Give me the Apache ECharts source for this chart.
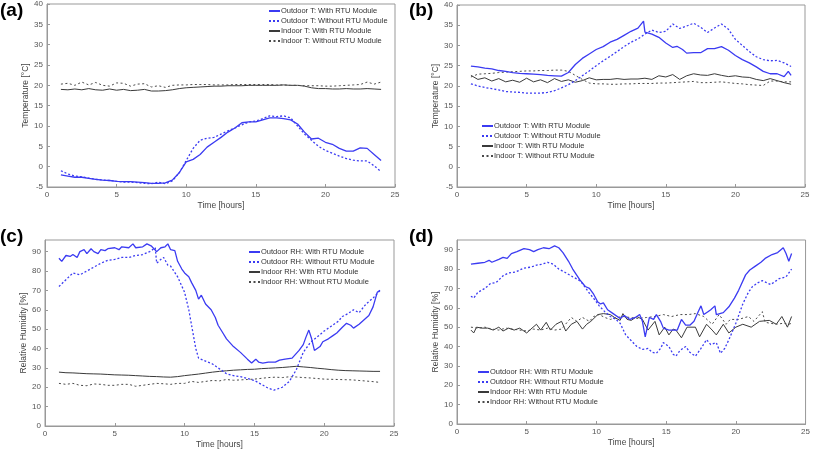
<!DOCTYPE html>
<html>
<head>
<meta charset="utf-8">
<script src="https://cdn.jsdelivr.net/npm/echarts@6/dist/echarts.min.js"></script>
<style>html,body{margin:0;padding:0;background:#fff}#c{width:813px;height:450px}</style>
</head>
<body>
<div id="c"></div>
<script>
// ---------- DATA ----------
const HOURS = [1,1.5,2,2.5,3,3.5,4,4.5,5,5.5,6,6.5,7,7.5,8,8.5,9,9.5,10,10.5,11,11.5,12,12.5,13,13.5,14,14.5,15,15.5,16,16.5,17,17.5,18,18.5,19,19.5,20,20.5,21,21.5,22,22.5,23,23.5,24];
const X_TICKS = [0,5,10,15,20,25];
const NAMES_T = ['Outdoor T: With RTU Module','Outdoor T: Without RTU Module','Indoor T: With RTU Module','Indoor T: Without RTU Module'];
const NAMES_RH = ['Outdoor RH: With RTU Module','Outdoor RH: Without RTU Module','Indoor RH: With RTU Module','Indoor RH: Without RTU Module'];
const PANEL_LABELS = ['(a)','(b)','(c)','(d)'];

// (a) temperature, winter day
const a_outWith = [-2,-2.3,-2.6,-2.6,-2.9,-3.1,-3.3,-3.4,-3.6,-3.7,-3.7,-3.8,-3.9,-4.1,-4.1,-4.0,-3.3,-1.5,1.2,1.8,3,4.8,6,7.2,8.5,9.5,10.8,11,11,11.5,12,12,11.8,11.5,10.5,8.5,6.8,7,6,5.5,4.5,3.8,3.8,4.6,4.5,3,1.5];
const a_outWithout = [-1,-1.8,-2.3,-2.5,-2.8,-3.1,-3.3,-3.4,-3.6,-3.8,-3.8,-3.9,-4.1,-4.2,-3.8,-4.2,-3.5,-1.5,1.5,4.5,6.5,7,7.2,8,8.8,9.5,10.3,11,11.2,11.8,12.5,12.3,12.5,12,10,8,6.5,5,4,3.3,2.6,2,1.6,1.4,1.4,0.2,-1.2];
const a_inWith = [19,18.9,19.1,18.9,19.2,18.9,18.8,19.1,18.8,19,18.7,18.8,19,18.6,18.6,18.7,18.9,19.2,19.4,19.5,19.6,19.7,19.8,19.8,19.9,19.9,19.9,20,20,20,20,20,20.1,20,20,19.8,19.4,19.2,19.2,19.1,19.1,19.2,19.1,19.1,19.2,19.1,19.0];
const a_inWithout = [20.3,20.5,20.0,20.8,20.1,20.7,20.0,19.8,20.6,20.5,19.8,20.3,20.4,19.6,19.9,19.5,20.0,20.1,20.1,20.2,20.2,20.2,20.1,20.1,20.1,20.2,20.2,20.2,20.2,20.2,20.2,20.1,20.1,20.0,20.0,19.9,19.9,19.9,19.8,19.8,19.9,20.0,20.1,20.2,20.8,20.3,20.8];

// (b) temperature, summer day
const b_outWith = [[1,24.9],[1.5,24.7],[2,24.4],[2.5,24.2],[3,23.8],[3.5,23.6],[4,23.3],[4.5,23.1],[5,23.0],[5.5,22.9],[6,22.8],[6.5,22.6],[7,22.5],[7.5,22.4],[8,23.3],[8.5,25.3],[9,26.8],[9.5,27.9],[10,29],[10.5,29.7],[11,30.8],[11.5,31.5],[12,32.5],[12.5,33.5],[13,34.3],[13.4,36],[13.5,33.3],[14,32.8],[14.5,32],[15,30.6],[15.5,29.5],[15.8,29.8],[16.2,29],[16.5,28.1],[17,28.2],[17.5,28.2],[18,29.2],[18.5,29.2],[19,29.7],[19.5,28.8],[20,27.5],[20.5,26.5],[21,25.7],[21.5,24.7],[22,23.6],[22.5,23],[23,23],[23.5,22.3],[23.8,23.6],[24,22.6]];
const b_outWithout = [20.5,20,19.6,19.3,19,18.6,18.5,18.4,18.2,18.2,18.2,18.4,18.8,19.5,20.3,21.3,22.5,23.7,25,26.2,27.3,28.5,29.7,30.8,31.6,32.8,33.8,33.2,33.5,35.3,34.2,34.8,35.5,34.5,33.2,34.3,35.3,34,31.5,30,28.5,27.2,26.5,26.2,26.3,25.7,24.8];
const b_inWith = [22.6,21.6,22.0,21.2,21.8,21.0,21.4,20.9,21.9,21.0,21.5,20.8,21.8,21.1,21.5,20.9,21.3,22.0,21.5,21.6,21.6,21.8,21.6,21.7,21.7,21.9,21.6,22.5,22.2,22.8,21.6,22.5,23.0,22.7,22.6,23.0,22.6,22.3,22.5,22.2,22.1,21.6,21.3,21.8,21.3,20.8,20.4];
const b_inWithout = [22.2,22.9,23.0,23.1,23.3,23.4,23.5,23.6,23.7,23.7,23.8,23.8,23.9,23.9,23.6,22.6,21.6,20.7,20.5,20.5,20.4,20.4,20.5,20.5,20.6,20.6,20.6,20.7,20.7,20.8,20.9,21.0,21.1,20.8,20.8,20.9,21.0,20.8,20.6,20.5,20.3,20.2,20.1,21.2,21.2,21.0,21.0];

// (c) relative humidity, winter day
const c_outWith = [[1,86.6],[1.2,85],[1.5,88],[1.8,87.5],[2,88.5],[2.3,87],[2.5,90],[2.8,91],[3,89],[3.3,91.5],[3.5,90],[3.8,89],[4,91],[4.3,90.5],[4.5,91.5],[5,92],[5.3,91],[5.5,92.5],[6,92],[6.3,94],[6.5,92],[7,92.5],[7.3,94],[7.6,93],[8,90],[8.3,92],[8.6,92.5],[8.8,94],[9,91],[9.3,90.5],[9.5,85],[9.8,81],[10,79],[10.3,77],[10.5,74],[10.8,70],[11,65.5],[11.2,67.5],[11.5,63],[11.9,60],[12.2,56],[12.4,52],[12.7,48.5],[13,45],[13.5,41],[14,38],[14.5,34.5],[14.8,32.5],[15.1,34.5],[15.3,33],[15.6,32.5],[16,33],[16.5,33],[16.8,34],[17.2,34.5],[17.7,35],[18.2,39],[18.5,42],[18.7,46],[18.9,49.5],[19.1,45],[19.3,39],[19.4,38],[19.7,41],[19.9,43.5],[20.3,45],[20.6,46.5],[20.9,48],[21.3,51],[21.6,53],[21.9,52],[22.1,50.5],[22.5,52.5],[22.8,54.5],[23.2,57],[23.5,61.5],[23.8,69],[24,70]];
const c_outWithout = [[1,72],[1.5,75.5],[2,79],[2.5,78],[3,80],[3.5,82],[4,84],[4.5,85.5],[5,86],[5.5,87],[6,87],[6.5,88],[7,88.5],[7.5,90],[7.9,92],[8,84],[8.3,86],[8.5,87],[8.8,83],[9,82.5],[9.5,77],[10,69],[10.3,60],[10.5,52],[10.8,40],[11,35],[11.5,33.5],[12,32],[12.5,29.5],[13,27],[13.5,26],[14,25.5],[14.5,24.5],[15,23.5],[15.5,21.5],[16,19.5],[16.4,18.5],[17,20],[17.5,23],[18,29],[18.5,38],[19,43],[19.5,46],[20,49],[20.5,51.5],[21,54],[21.3,56.5],[21.7,58],[22.1,60],[22.5,58.5],[23,63],[23.5,66],[24,70]];
const c_inWith = [27.8,27.5,27.4,27.2,27,26.9,26.8,26.6,26.4,26.3,26.2,26,25.8,25.6,25.5,25.3,25.2,25.5,26,26.4,26.8,27.3,27.8,28.2,28.5,28.8,29,29.2,29.3,29.6,29.8,30,30.2,30.5,30.8,30.5,30.2,29.8,29.5,29.1,28.8,28.6,28.5,28.4,28.3,28.2,28.2];
const c_inWithout = [22,21.5,22,21,20.8,21.7,21.5,21,21,21.5,21.5,20.5,21,21.5,22,21.8,21.5,22,22,23,22.5,23,23.5,23.3,24,23.6,23.8,24,24.2,24.6,25,25.2,25,25.4,25.3,25,24.8,24.5,24.2,24.1,24,23.9,23.8,23.5,23.2,22.9,22.5];

// (d) relative humidity, summer day
const d_outWith = [[1,82.5],[1.5,83],[2,83.5],[2.3,84.5],[2.5,83.5],[3,85],[3.3,86],[3.6,85.5],[3.9,88],[4.3,89],[4.8,90.5],[5.2,90],[5.5,89],[5.8,90],[6.2,91],[6.6,90.5],[7,92],[7.3,91],[7.6,88.5],[8,84],[8.3,80],[8.8,74.5],[9.2,71],[9.5,70],[9.8,67],[10.1,63],[10.3,62],[10.5,62.5],[10.8,59],[11.2,57],[11.7,54.5],[12,56],[12.4,54],[12.8,55],[13.1,56.5],[13.3,53],[13.5,45],[13.8,55],[14.1,54],[14.3,56.5],[14.6,53],[14.8,49.5],[15.2,48.5],[15.8,48.5],[16.1,54],[16.4,51],[16.7,51],[17,53],[17.3,58],[17.5,61],[17.7,56.5],[18,58],[18.2,59],[18.5,61],[18.6,56.5],[19.1,57.5],[19.5,60.5],[19.9,65],[20.2,69],[20.7,77],[21,79.5],[21.4,81.5],[21.8,83.5],[22.1,85.5],[22.6,87.5],[23,88.5],[23.4,91],[23.6,88],[23.8,84],[24,88]];
const d_outWithout = [[1,66],[1.2,65],[1.5,68],[2,70],[2.4,72.5],[2.8,73],[3.3,76.5],[3.7,78],[4.2,78.5],[4.8,80.5],[5.3,81],[5.7,82],[6.1,82.5],[6.5,83.5],[6.9,82.5],[7.3,80],[7.7,78.5],[8.3,76],[8.7,74.5],[9,72.5],[9.5,67.5],[9.9,64],[10.2,61],[10.6,58],[11,55.5],[11.4,54],[11.7,52],[12.1,46],[12.5,43],[12.9,40],[13.3,38.5],[13.7,39],[14,37],[14.3,36.5],[14.6,39],[14.8,42],[15.2,40],[15.5,36],[15.7,35],[16,38],[16.4,40],[16.7,37],[17.1,35],[17.5,39],[17.9,43.5],[18.2,41],[18.6,42],[18.9,36.5],[19.2,39],[19.5,43.5],[20,52],[20.5,62],[20.9,68],[21.2,71],[21.6,73],[21.9,74],[22.2,73],[22.5,72],[23.1,75],[23.6,76],[24,80]];
const d_inWith = [[1,48.5],[1.2,47],[1.4,50],[1.8,49.5],[2.2,49.5],[2.6,48.5],[3,50],[3.3,48],[3.7,49.5],[4.1,48.5],[4.5,49.5],[4.8,48],[5,47],[5.3,49],[5.7,51.5],[6,48.5],[6.4,52.5],[6.7,48.5],[7.1,51.5],[7.5,53],[7.8,48],[8.2,51.5],[8.6,53],[9,49],[9.3,51.5],[9.6,53],[10.1,56.5],[10.5,57],[11,56.5],[11.3,55],[11.7,53.5],[11.9,57],[12.2,54],[12.5,53.5],[12.9,55.5],[13.3,54],[13.7,48.5],[14.2,53],[14.5,46],[14.9,50],[15.2,46],[15.5,49],[15.7,48.5],[16.1,44.5],[16.5,50],[17.1,50],[17.4,45],[17.9,51.5],[18.3,48.5],[18.6,46],[19.1,51.5],[19.5,47],[20,50],[20.5,51.5],[21.1,50],[21.7,53],[22.4,53.5],[22.9,51.5],[23.3,55.5],[23.7,50],[24,55.5]];
const d_inWithout = [[1,50],[1.5,49.5],[2,50],[2.5,49],[3,48.5],[3.5,49.5],[4,49],[4.5,48.5],[5,48],[5.5,49],[6,48.5],[6.5,49.5],[7,48.5],[7.5,49],[7.9,52.5],[8.2,55],[8.6,53],[9,55],[9.5,53],[9.8,55.5],[10.2,56.5],[10.6,55],[11,54],[11.5,55],[11.9,55.5],[12.4,55],[13,54.5],[13.6,55],[14.2,55.5],[14.8,56.5],[15.4,55.5],[16,56.5],[16.6,56.5],[17.1,57],[17.7,55.5],[18.3,51.5],[18.8,56.5],[19.3,51.5],[19.6,54],[20.2,54],[20.9,55.5],[21.3,53],[21.9,58],[22.1,52.5],[22.5,52],[22.9,51.5],[23.4,52],[23.8,51.5],[24,52]];

// ---------- BUILD ----------
const zip = (xs, ys) => ys.map((v, i) => [xs[i], v]);
const BLUE = '#3b3bf2', DARK = '#3a3a3a', DARKDOT = '#4a4a4a';
const FONT = 'Liberation Sans, Arial, sans-serif';
const STYLES = [
  {color: BLUE, width: 1.3, type: 'solid'},
  {color: BLUE, width: 1.3, type: [2, 2]},
  {color: DARK, width: 1, type: 'solid'},
  {color: DARKDOT, width: 1, type: [2, 2.5]}
];
const grids = [
  {left: 47, top: 4, width: 348, height: 183},
  {left: 457, top: 5, width: 348, height: 182},
  {left: 45, top: 240, width: 349, height: 186},
  {left: 457, top: 240, width: 350, height: 184}
];
const yCfg = [
  {min: -5, max: 40, interval: 5, name: 'Temperature [\u00B0C]'},
  {min: -5, max: 40, interval: 5, name: 'Temperature [\u00B0C]'},
  {min: 0, max: 96, interval: 10, name: 'Relative Humidity [%]'},
  {min: 0, max: 95, interval: 10, name: 'Relative Humidity [%]'}
];
const legendPos = [
  {left: 268, top: 7},
  {left: 481, top: 122},
  {left: 248, top: 248},
  {left: 477, top: 368}
];
const panelData = [
  [zip(HOURS, a_outWith), zip(HOURS, a_outWithout), zip(HOURS, a_inWith), zip(HOURS, a_inWithout)],
  [b_outWith, zip(HOURS, b_outWithout), zip(HOURS, b_inWith), zip(HOURS, b_inWithout)],
  [c_outWith, c_outWithout, zip(HOURS, c_inWith), zip(HOURS, c_inWithout)],
  [d_outWith, d_outWithout, d_inWith, d_inWithout]
];
const labelPos = [{left: 0, top: 1}, {left: 409, top: 1}, {left: 0, top: 227}, {left: 409, top: 227}];

const axisLabel = {color: '#555', fontSize: 8, fontFamily: FONT};
const xAxis = [], yAxis = [], series = [], legend = [], title = [];
for (let p = 0; p < 4; p++) {
  const names = p < 2 ? NAMES_T : NAMES_RH;
  xAxis.push({
    type: 'value', gridIndex: p, min: X_TICKS[0], max: X_TICKS[X_TICKS.length - 1], interval: 5,
    name: 'Time [hours]', nameLocation: 'middle', nameGap: 14,
    nameTextStyle: {color: '#444', fontSize: 8.5, fontFamily: FONT},
    axisLine: {show: true, onZero: false, lineStyle: {color: '#999'}},
    axisTick: {inside: true, length: 3, lineStyle: {color: '#999'}},
    axisLabel: Object.assign({margin: 4}, axisLabel),
    splitLine: {show: false}
  });
  yAxis.push({
    type: 'value', gridIndex: p, min: yCfg[p].min, max: yCfg[p].max, interval: yCfg[p].interval,
    name: yCfg[p].name, nameLocation: 'middle', nameGap: 13,
    nameTextStyle: {color: '#444', fontSize: 8.5, fontFamily: FONT},
    axisLine: {show: true, onZero: false, lineStyle: {color: '#999'}},
    axisTick: {inside: true, length: 3, lineStyle: {color: '#999'}},
    axisLabel: Object.assign({margin: 4, showMaxLabel: p < 2}, axisLabel),
    splitLine: {show: false}
  });
  for (let s = 0; s < 4; s++) {
    series.push({
      type: 'line', name: names[s], xAxisIndex: p, yAxisIndex: p,
      data: panelData[p][s], symbol: 'none', showSymbol: false,
      lineStyle: STYLES[s], itemStyle: {color: STYLES[s].color},
      z: s < 2 ? 3 : 2, silent: true
    });
  }
  legend.push(Object.assign({
    orient: 'vertical', data: names, itemWidth: 11, itemHeight: 8, itemGap: 2,
    textStyle: {fontSize: 7.5, color: '#333', fontFamily: FONT, padding: [0, 0, 0, -4]},
    itemStyle: {opacity: 0},
    selectedMode: false, padding: 0
  }, legendPos[p]));
  title.push(Object.assign({
    text: PANEL_LABELS[p],
    textStyle: {fontSize: 19, fontWeight: 'bold', color: '#000', fontFamily: FONT},
    padding: 0
  }, labelPos[p]));
}

const chart = echarts.init(document.getElementById('c'), null, {renderer: 'canvas'});
chart.setOption({
  animation: false,
  backgroundColor: '#fff',
  title: title,
  grid: grids.map(g => Object.assign({show: true, borderColor: '#999', borderWidth: 1, backgroundColor: 'transparent'}, g)),
  xAxis: xAxis,
  yAxis: yAxis,
  legend: legend,
  series: series
});
</script>
</body>
</html>
